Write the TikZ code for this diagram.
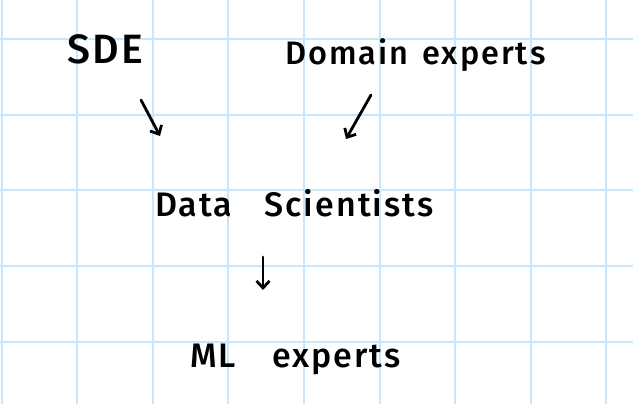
\documentclass[tikz,border=0pt]{standalone}
\usepackage{fontspec}
\setmainfont{Fira Sans}
\newfontfamily\handfont[LetterSpace=6, UprightFont=* Medium]{Fira Sans}
\usetikzlibrary{arrows.meta, positioning}
\definecolor{gridblue}{HTML}{C9E7FA}

\begin{document}
\begin{tikzpicture}[
    x=1pt, y=-1pt,
    word/.style={font=\handfont\fontsize{34}{34}\selectfont, inner sep=0pt, anchor=base west},
    arrow/.style={-{Straight Barb[length=7pt, width=13pt]}, line width=2.8pt, line cap=round},
    gridline/.style={gridblue, line width=2pt}
]
    % paper
    \fill[white] (0,0) rectangle (633,404);
    \useasboundingbox (0,0) rectangle (633,404);

    % grid
    \foreach \i in {0,...,8}
        \draw[gridline] ({1.5+75.6*\i},0) -- ({1.5+75.6*\i},404);
    \foreach \j in {0,...,4}
        \draw[gridline] (0,{39+75.7*\j}) -- (633,{39+75.7*\j});

    % words
    \node[word, font=\handfont\fontsize{41}{41}\selectfont] (sde) at (67,64) {SDE};
    \node[word, font=\handfont\fontsize{32.5}{32.5}\selectfont] (domain) at (285,65) {Domain\hspace{14pt}experts};
    \node[word] (ds) at (155,216) {Data\hspace{32pt}Scientists};
    \node[word] (ml) at (190,367) {ML\hspace{36pt}experts};

    % arrow ends
    \coordinate (sde-a) at (141,100);
    \coordinate (sde-b) at (160,136);
    \coordinate (dom-a) at (371,95);
    \coordinate (dom-b) at (346,139);
    \coordinate (ds-a) at (263,257);
    \coordinate (ds-b) at (263,290);

    \draw[arrow] (sde-a) -- (sde-b);
    \draw[arrow] (dom-a) -- (dom-b);
    \draw[arrow] (ds-a) -- (ds-b);
\end{tikzpicture}
\end{document}
